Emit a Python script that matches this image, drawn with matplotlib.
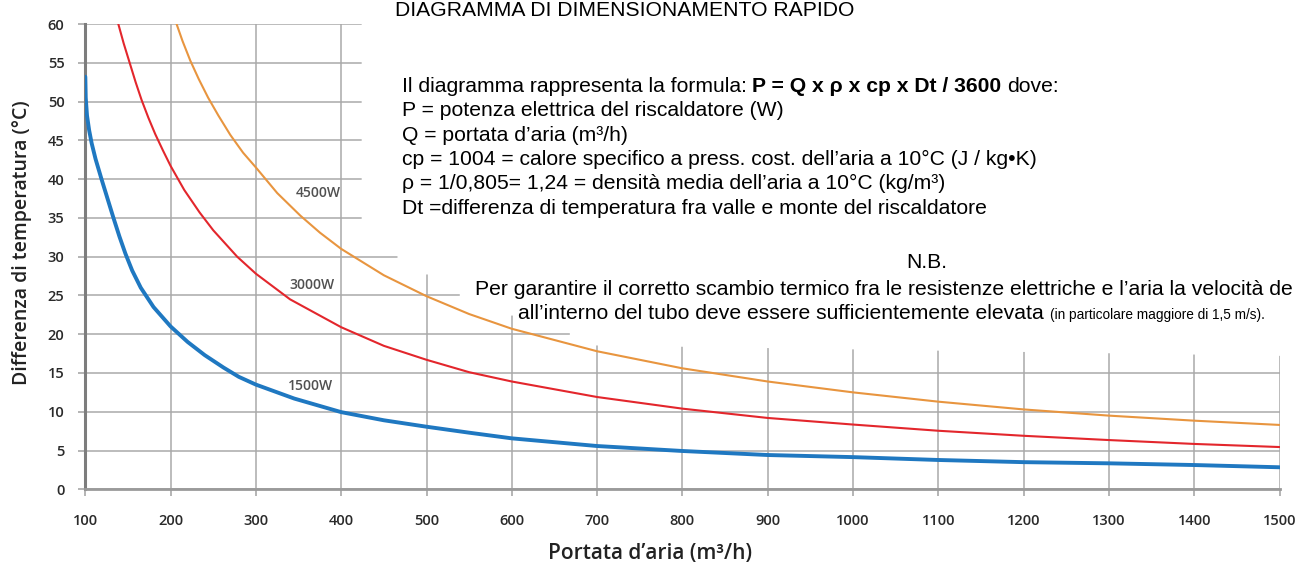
import matplotlib.pyplot as plt
from matplotlib.patches import Polygon

# portata d'aria (m3/h) and temperature difference (°C)
Q_1500 = [100, 100.5, 102, 104.5, 107.5, 112, 119, 126, 133, 140, 147, 155, 165, 180,
          200, 220, 240, 262, 280, 300, 345, 400, 450, 500, 550, 600, 700, 800, 900, 1000,
          1100, 1200, 1300, 1400, 1500]
DT_1500 = [53.2, 50.5, 48.2, 46.3, 44.6, 42.6, 40.0, 37.5, 35.0, 32.6, 30.4, 28.2, 26.0, 23.5,
           21.0, 19.0, 17.3, 15.7, 14.5, 13.5, 11.7, 9.95, 8.9, 8.07, 7.3, 6.57, 5.58, 4.94, 4.42,
           4.15, 3.78, 3.5, 3.35, 3.13, 2.84]

Q_3000 = [138.7, 145, 152, 159, 166, 174, 182, 191, 200, 216, 234, 250, 278, 300, 340, 400,
          450, 500, 550, 600, 700, 800, 900, 1000, 1100, 1200, 1300, 1400, 1500]
DT_3000 = [60, 57.5, 55, 52.5, 50.2, 47.9, 45.8, 43.7, 41.7, 38.6, 35.7, 33.4, 30.0, 27.8, 24.5,
           20.9, 18.5, 16.7, 15.1, 13.9, 11.9, 10.4, 9.2, 8.35, 7.55, 6.9, 6.35, 5.85, 5.45]

Q_4500 = [207, 214, 223, 233, 244, 256, 270, 285, 300, 325, 352, 375, 400, 450, 500, 550, 600,
          700, 800, 900, 1000, 1100, 1200, 1300, 1400, 1500]
DT_4500 = [60, 57.8, 55.3, 52.9, 50.5, 48.2, 45.7, 43.4, 41.5, 38.2, 35.3, 33.1, 31.0, 27.6, 24.9,
           22.6, 20.7, 17.8, 15.6, 13.9, 12.5, 11.3, 10.3, 9.5, 8.85, 8.3]

SERIES = [
    ("1500W", Q_1500, DT_1500, "#1f78c1", 2.8, (364, 13.3)),
    ("3000W", Q_3000, DT_3000, "#e3262c", 1.5, (366, 26.3)),
    ("4500W", Q_4500, DT_4500, "#e8953f", 1.5, (373, 38.2)),
]

X_TICKS = list(range(100, 1501, 100))
Y_TICKS = list(range(0, 61, 5))

# white box pasted over the grid behind the notes (data coords)
MASK = [(424, 61), (424, 30.6), (466, 30.6), (466, 27.7), (539, 27.7), (539, 22.4),
        (668, 22.4), (668, 18.6), (1505, 17.2), (1505, 61)]

W, H = 1301, 569
BODY = "Liberation Sans"
AXFONT = "Open Sans"
FS = 15.2


def fx(px):
    return px / W


def fy(py):
    return 1 - py / H


fig = plt.figure(figsize=(W / 100, H / 100), dpi=100)
ax = fig.add_axes([fx(85.3), fy(489.3), (1279.5 - 85.3) / W, (489.3 - 24) / H])

ax.set_xlim(100, 1500)
ax.set_ylim(0, 60)
ax.set_xticks(X_TICKS)
ax.set_yticks(Y_TICKS)
ax.grid(True, color="#a9a9a9", linewidth=1.1)
ax.set_axisbelow(True)
for side in ("top", "right"):
    ax.spines[side].set_visible(False)
ax.spines["left"].set_color("#7d7d7d")
ax.spines["left"].set_linewidth(2.2)
ax.spines["bottom"].set_color("#9a9a9a")
ax.spines["bottom"].set_linewidth(2.0)
ax.tick_params(axis="both", colors="#a0a0a0", length=5, width=1.1,
               labelcolor="#2a2a2a", labelsize=10.5)
ax.tick_params(axis="y", pad=10)
ax.tick_params(axis="x", pad=13)
for lab in ax.get_xticklabels() + ax.get_yticklabels():
    lab.set_family(AXFONT)
    lab.set_fontweight("semibold")

ax.add_patch(Polygon(MASK, closed=True, facecolor="white", edgecolor="none",
                     zorder=1, clip_on=False))

for name, q, dt, color, lw, (lx, ly) in SERIES:
    ax.plot(q, dt, color=color, linewidth=lw, zorder=3, solid_capstyle="round",
            solid_joinstyle="round")
    ax.text(lx, ly, name, ha="center", va="center", fontsize=10, color="#505050",
            family=AXFONT, fontweight="semibold", zorder=4)

fig.text(fx(650), fy(553), "Portata d\u2019aria (m\u00b3/h)", ha="center", va="center",
         fontsize=15, color="#222222", family=AXFONT, fontweight="semibold")
fig.text(fx(22), fy(243), "Differenza di temperatura (\u00b0C)", ha="center", va="center",
         rotation=90, fontsize=14, color="#222222", family=AXFONT, fontweight="semibold")

fig.text(fx(625), fy(16), "DIAGRAMMA DI DIMENSIONAMENTO RAPIDO", ha="center",
         va="baseline", fontsize=FS, family=BODY, color="black")

renderer = fig.canvas.get_renderer()


def text_width(s, **kw):
    t = fig.text(0, 0, s, **kw)
    w = t.get_window_extent(renderer).width
    t.remove()
    return w


def runs(x_px, y_px, parts):
    # parts: (string, fontsize, weight); a space is put between consecutive parts
    x = x_px
    for i, (s, size, weight) in enumerate(parts):
        kw = dict(fontsize=size, fontweight=weight, family=BODY, color="black")
        t = fig.text(fx(x), fy(y_px), s, ha="left", va="baseline", **kw)
        x += t.get_window_extent(renderer).width
        if i + 1 < len(parts):
            x += text_width("a a", **kw) - text_width("aa", **kw)


NOTES = [
    [("Il diagramma rappresenta la formula:", FS, "normal"),
     ("P = Q x \u03c1 x cp x Dt / 3600", FS, "bold"),
     ("dove:", FS, "normal")],
    [("P = potenza elettrica del riscaldatore (W)", FS, "normal")],
    [("Q = portata d\u2019aria (m\u00b3/h)", FS, "normal")],
    [("cp = 1004 = calore specifico a press. cost. dell\u2019aria a 10\u00b0C (J / kg\u2022K)", FS, "normal")],
    [("\u03c1 = 1/0,805= 1,24 = densit\u00e0 media dell\u2019aria a 10\u00b0C (kg/m\u00b3)", FS, "normal")],
    [("Dt =differenza di temperatura fra valle e monte del riscaldatore", FS, "normal")],
]
for i, parts in enumerate(NOTES):
    runs(401.7, 92 + 24.3 * i, parts)

fig.text(fx(927), fy(268.3), "N.B.", ha="center", va="baseline", fontsize=FS,
         family=BODY, color="black")
runs(475, 295, [("Per garantire il corretto scambio termico fra le resistenze elettriche "
                 "e l\u2019aria la velocit\u00e0 de", FS, "normal")])
runs(518.3, 319, [("all\u2019interno del tubo deve essere sufficientemente elevata", FS, "normal"),
                  ("(in particolare maggiore di 1,5 m/s).", 9.8, "normal")])

fig.savefig("out.png", dpi=100, facecolor="white")
